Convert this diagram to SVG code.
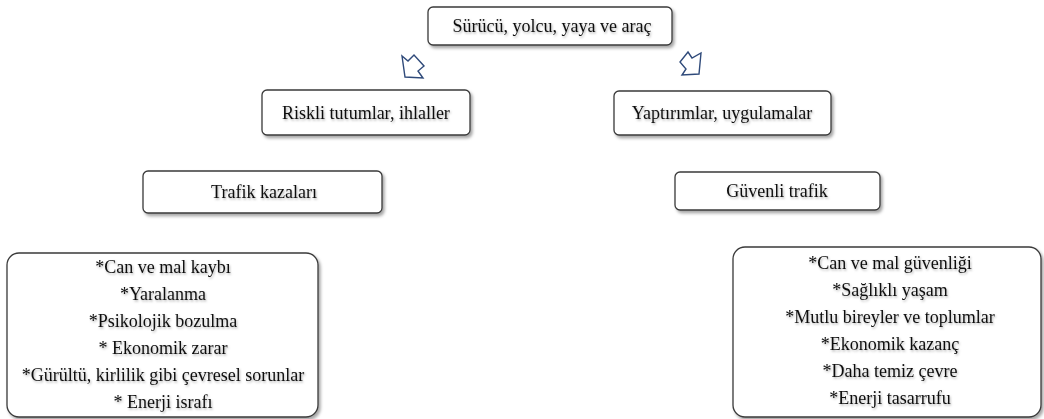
<svg xmlns="http://www.w3.org/2000/svg" width="1044" height="419" viewBox="0 0 1044 419">
<defs>
<filter id="bs" x="-10%" y="-10%" width="120%" height="130%">
<feDropShadow dx="2" dy="2.5" stdDeviation="1.8" flood-color="#000" flood-opacity="0.35"/>
</filter>
<filter id="ts" x="-5%" y="-30%" width="110%" height="160%">
<feDropShadow dx="1" dy="1.5" stdDeviation="0.9" flood-color="#000" flood-opacity="0.3"/>
</filter>
<style>
.box{fill:#fff;stroke:#3a3a3a;stroke-width:1.3;filter:url(#bs)}
.t{font-family:"Liberation Serif","Times New Roman",serif;font-size:18px;fill:#111;text-anchor:middle;filter:url(#ts)}
.arr{fill:#fff;stroke:#2f4a7a;stroke-width:1.4;stroke-linejoin:miter}
</style>
</defs>
<rect width="1044" height="419" fill="#fff"/>
<g id="top">
<rect class="box" x="428" y="7" width="244" height="38" rx="5"/>
<text class="t" x="552" y="32">Sürücü, yolcu, yaya ve araç</text>
</g>
<g id="connectors">
<polygon class="arr" points="402,56 405,77 423,78 418,71 424,66 414,55 408,61"/>
<polygon class="arr" points="701,53 699,74 682,75 686,69 680,62 688,52 692,58"/>
</g>
<g id="riskli">
<rect class="box" x="262" y="90" width="208" height="45" rx="5"/>
<text class="t" x="366" y="119">Riskli tutumlar, ihlaller</text>
</g>
<g id="yaptirim">
<rect class="box" x="614" y="91" width="217" height="44" rx="5"/>
<text class="t" x="722" y="119">Yaptırımlar, uygulamalar</text>
</g>
<g id="kaza">
<rect class="box" x="143" y="171" width="239" height="42" rx="5"/>
<text class="t" x="264" y="198">Trafik kazaları</text>
</g>
<g id="guvenli">
<rect class="box" x="675" y="172" width="205" height="38" rx="5"/>
<text class="t" x="777" y="197">Güvenli trafik</text>
</g>
<g id="sonuclar-sol">
<rect class="box" x="7" y="253" width="311" height="164" rx="12"/>
<text class="t" x="163" y="273">*Can ve mal kaybı</text>
<text class="t" x="163" y="300">*Yaralanma</text>
<text class="t" x="163" y="327">*Psikolojik bozulma</text>
<text class="t" x="163" y="354">* Ekonomik zarar</text>
<text class="t" x="163" y="381">*Gürültü, kirlilik gibi çevresel sorunlar</text>
<text class="t" x="163" y="408">* Enerji israfı</text>
</g>
<g id="sonuclar-sag">
<rect class="box" x="733" y="247" width="308" height="170" rx="12"/>
<text class="t" x="890" y="269">*Can ve mal güvenliği</text>
<text class="t" x="890" y="296">*Sağlıklı yaşam</text>
<text class="t" x="890" y="323">*Mutlu bireyler ve toplumlar</text>
<text class="t" x="890" y="350">*Ekonomik kazanç</text>
<text class="t" x="890" y="377">*Daha temiz çevre</text>
<text class="t" x="890" y="404">*Enerji tasarrufu</text>
</g>
</svg>
